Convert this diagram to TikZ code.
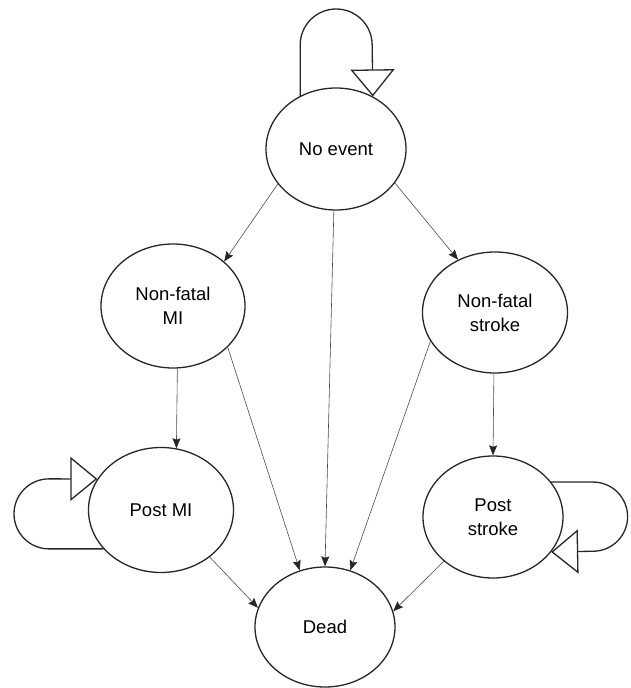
\documentclass[tikz,border=0pt]{standalone}
\usepackage{fontspec}
\setmainfont{Liberation Sans}
\usetikzlibrary{shapes.geometric,arrows.meta}
\begin{document}
\begin{tikzpicture}[x=1pt,y=-1pt,
  state/.style={ellipse, draw=black!85, line width=1.3pt, inner sep=0pt, align=center,
    font=\fontsize{18.5}{24}\selectfont},
  edge/.style={draw=black!70, line width=0.6pt, -{Stealth[length=10pt,width=8pt,inset=1.5pt,color=black!85]}},
  selfloop/.style={draw=black!85, line width=1.3pt, -{Triangle[open,length=27pt,width=44pt]}}]
\path[use as bounding box] (0,0) rectangle (630,688);

\node[state, minimum width=140pt, minimum height=122pt] (ne) at (336,149) {No event};
\node[state, minimum width=144pt, minimum height=124pt] (nm) at (173,306) {Non-fatal\\MI};
\node[state, minimum width=145pt, minimum height=121pt] (ns) at (495,312.5) {Non-fatal\\stroke};
\node[state, minimum width=145pt, minimum height=125pt] (pm) at (161,510) {Post MI};
\node[state, minimum width=140pt, minimum height=122pt] (ps) at (493,517) {Post\\stroke};
\node[state, minimum width=140pt, minimum height=120pt] (dead) at (325,627) {Dead};

\coordinate (c1) at (0,45);
\coordinate (c2) at (49,0);
\coordinate (c3) at (593,0);

\draw[selfloop] (ne.124.5) -- (ne.124.5 |- c1) arc[start angle=180, end angle=0, radius=36pt] -- (ne.55.5);
\draw[selfloop] (pm.214) -- (pm.214 -| c2) arc[start angle=270, end angle=90, radius=35pt] -- (pm.154);
\draw[selfloop] (ps.31) -- (ps.31 -| c3) arc[start angle=90, end angle=-90, radius=34.6pt] -- (ps.-31);

\draw[edge] (ne.211) -- (nm.41);
\draw[edge] (ne.330) -- (ns.125);
\draw[edge] (ne.-92) -- (dead.90);
\draw[edge] (nm.-86) -- (pm.76);
\draw[edge] (nm.-37) -- (dead.114);
\draw[edge] (ns.-91) -- (ps.90);
\draw[edge] (ns.204) -- (dead.66);
\draw[edge] (pm.-44) -- (dead.164);
\draw[edge] (ps.222) -- (dead.13);
\end{tikzpicture}
\end{document}
